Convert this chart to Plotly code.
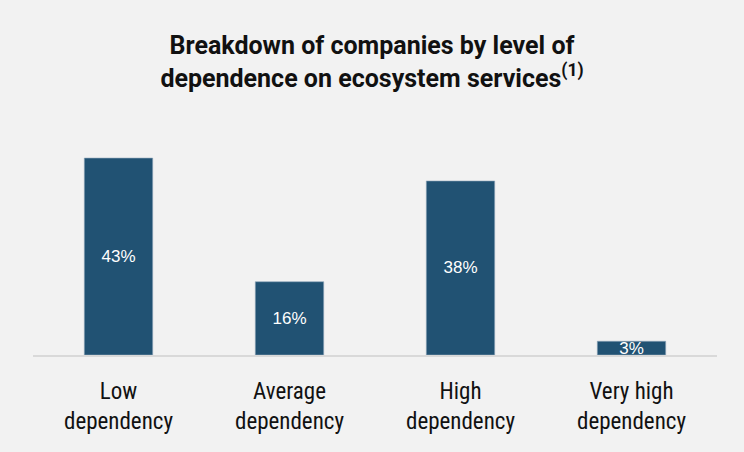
import plotly.graph_objects as go

categories = ["Low<br>dependency", "Average<br>dependency", "High<br>dependency", "Very high<br>dependency"]
values = [43, 16, 38, 3]

fig = go.Figure(go.Bar(
    x=categories, y=values,
    marker=dict(color="#215273", line=dict(color="#8fa6ba", width=0.6)),
    width=0.4,
    texttemplate="%{y}%",
    textposition="inside",
    insidetextanchor="middle",
    textfont=dict(color="white", size=17, family="Liberation Sans, Arial, sans-serif"),
    cliponaxis=False,
    hoverinfo="skip",
))

fig.update_layout(
    width=744, height=452,
    paper_bgcolor="#f2f2f2", plot_bgcolor="#f2f2f2",
    margin=dict(l=33, r=27, t=110, b=97),
    showlegend=False,
    uniformtext=dict(minsize=17, mode="show"),
    title=dict(
        text="Breakdown of companies by level of<br>dependence on ecosystem services<sup>(1)</sup>",
        x=0.5, xanchor="center", y=0.88, yanchor="top",
        font=dict(family="Roboto, Lato, sans-serif", size=25, color="#111111", weight="bold"),
    ),
    bargap=0.6,
)
fig.update_xaxes(
    showline=True, linecolor="#d9d9d9", linewidth=2,
    tickfont=dict(family="Liberation Sans Narrow, Roboto Condensed, Arial Narrow, sans-serif", size=23, color="#111111"),
    ticks="", ticklabelstandoff=14, showgrid=False, fixedrange=True,
)
fig.update_yaxes(range=[0, 53.5], visible=False, showgrid=False, zeroline=False)

fig.write_html("out.html")
